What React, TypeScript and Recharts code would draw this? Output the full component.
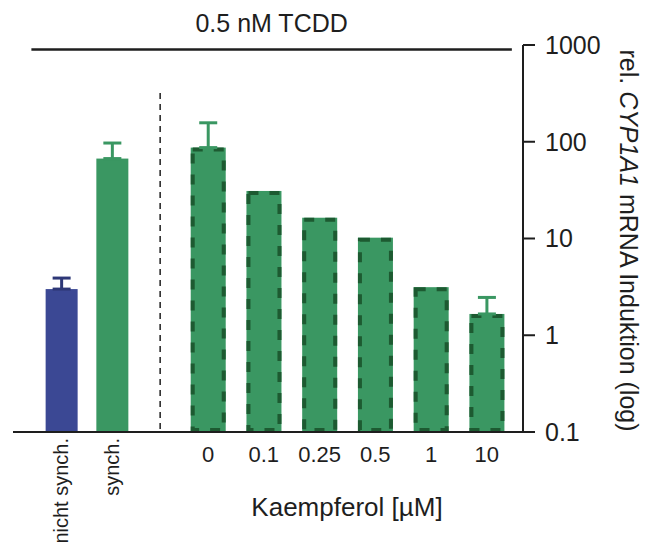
import { Bar, BarChart, ErrorBar, Label, ReferenceLine, XAxis, YAxis } from 'recharts'

// controls (no Kaempferol)
const controlLabels = ['nicht synch.', 'synch.']
const controlValues = [3.0, 67]
const controlErrors = [0.9, 30]

// Kaempferol doses [µM]
const doseLabels = ['0', '0.1', '0.25', '0.5', '1', '10']
const doseValues = [87, 31, 16.4, 10.2, 3.14, 1.66]
const doseErrors: (number | null)[] = [70, null, null, null, null, 0.8]

const yTicks = [0.1, 1, 10, 100, 1000]

// layout in x-slot units (dose bars sit at 0..5)
const CONTROL_START = -2.63
const CONTROL_STEP = 0.91
const SEPARATOR_X = -0.86
const X_DOMAIN = [-3.5, 5.65]
const TCDD_SPAN = [-3.17, 5.45]
const TCDD_LEVEL = 900
const SEPARATOR_TOP = 320

const BLUE = '#3b4894'
const NAVY = '#2e3877'
const GREEN = '#3a9762'
const DARK_GREEN = '#1d5a31'
const INK = '#1e1e1e'
const FONT = '"Liberation Sans", Arial, sans-serif'

type Row = {
  slot: number
  label: string
  value: number
  kind: 'blue' | 'green' | 'dashed'
  errNavy: number[] | null
  errGreen: number[] | null
}

const rows: Row[] = [
  ...controlLabels.map((label, i) => ({
    slot: CONTROL_START + i * CONTROL_STEP,
    label,
    value: controlValues[i],
    kind: (i === 0 ? 'blue' : 'green') as Row['kind'],
    errNavy: i === 0 ? [0, controlErrors[i]] : null,
    errGreen: i === 1 ? [0, controlErrors[i]] : null,
  })),
  ...doseLabels.map((label, i) => ({
    slot: i,
    label,
    value: doseValues[i],
    kind: 'dashed' as Row['kind'],
    errNavy: null,
    errGreen: doseErrors[i] == null ? null : [0, doseErrors[i] as number],
  })),
]

function BarShape(props: any) {
  const { x, y, width, height, payload } = props
  if (payload.kind === 'dashed') {
    return (
      <g>
        <rect x={x} y={y} width={width} height={height} fill={GREEN} />
        <rect
          x={x + 2}
          y={y + 2}
          width={width - 4}
          height={height - 4}
          fill="none"
          stroke={DARK_GREEN}
          strokeWidth={4}
          strokeDasharray="10 11"
        />
      </g>
    )
  }
  const w = 32
  const cx = x + width / 2
  return <rect x={cx - w / 2} y={y} width={w} height={height} fill={payload.kind === 'blue' ? BLUE : GREEN} />
}

function SlotTick(props: any) {
  const { x, payload } = props
  const row = rows.find((r) => Math.abs(r.slot - payload.value) < 1e-6)
  if (!row) return null
  const axisY = 432
  if (row.kind === 'dashed') {
    return (
      <text x={x} y={axisY + 30} textAnchor="middle" fontSize={22} fill={INK} fontFamily={FONT}>
        {row.label}
      </text>
    )
  }
  const px = x + 7
  const py = axisY + 6
  return (
    <text x={px} y={py} transform={`rotate(-90, ${px}, ${py})`} textAnchor="end" fontSize={20} fill={INK} fontFamily={FONT}>
      {row.label}
    </text>
  )
}

function YTitle(props: any) {
  const { x, y, height } = props.viewBox
  const cx = x + 106
  const cy = y + height / 2 + 2
  return (
    <text
      x={cx}
      y={cy}
      transform={`rotate(90, ${cx}, ${cy})`}
      textAnchor="middle"
      dominantBaseline="central"
      fontSize={25}
      fill={INK}
      fontFamily={FONT}
    >
      rel. <tspan fontStyle="italic">CYP1A1</tspan> mRNA Induktion (log)
    </text>
  )
}

export default function App() {
  return (
    <div style={{ position: 'absolute', left: 0, top: 0, width: 646, height: 542, background: '#fff' }}>
      <BarChart
        width={646}
        height={542}
        data={rows}
        margin={{ top: 45, right: 53, bottom: 70, left: 13 }}
        style={{ fontFamily: FONT }}
      >
        <XAxis
          type="number"
          dataKey="slot"
          domain={X_DOMAIN}
          allowDataOverflow
          ticks={rows.map((r) => r.slot)}
          interval={0}
          tick={<SlotTick />}
          tickLine={false}
          axisLine={{ stroke: INK, strokeWidth: 2 }}
          height={40}
        />
        <YAxis
          orientation="right"
          type="number"
          scale="log"
          domain={[0.1, 1000]}
          allowDataOverflow
          ticks={yTicks}
          tickFormatter={(v) => String(v)}
          width={70}
          tickSize={12}
          tickMargin={10}
          axisLine={{ stroke: INK, strokeWidth: 2 }}
          tickLine={{ stroke: INK, strokeWidth: 2 }}
          tick={{ fontSize: 25, fill: INK, fontFamily: FONT }}
        >
          <Label content={<YTitle />} />
        </YAxis>
        <ReferenceLine
          segment={[
            { x: TCDD_SPAN[0], y: TCDD_LEVEL },
            { x: TCDD_SPAN[1], y: TCDD_LEVEL },
          ]}
          stroke={INK}
          strokeWidth={2.5}
          ifOverflow="visible"
          label={{ value: '0.5 nM TCDD', position: 'top', offset: 17, fontSize: 25, fill: INK, fontFamily: FONT }}
        />
        <ReferenceLine
          segment={[
            { x: SEPARATOR_X, y: SEPARATOR_TOP },
            { x: SEPARATOR_X, y: 0.1 },
          ]}
          stroke={INK}
          strokeWidth={1.5}
          strokeDasharray="6 5"
          ifOverflow="visible"
        />
        <Bar dataKey="value" barSize={35} shape={<BarShape />} isAnimationActive={false}>
          <ErrorBar dataKey="errNavy" width={9} stroke={NAVY} strokeWidth={3} direction="y" />
          <ErrorBar dataKey="errGreen" width={9} stroke={GREEN} strokeWidth={3} direction="y" />
        </Bar>
        <text x={347} y={516} textAnchor="middle" fontSize={26} fill={INK} fontFamily={FONT}>
          Kaempferol [µM]
        </text>
      </BarChart>
    </div>
  )
}
